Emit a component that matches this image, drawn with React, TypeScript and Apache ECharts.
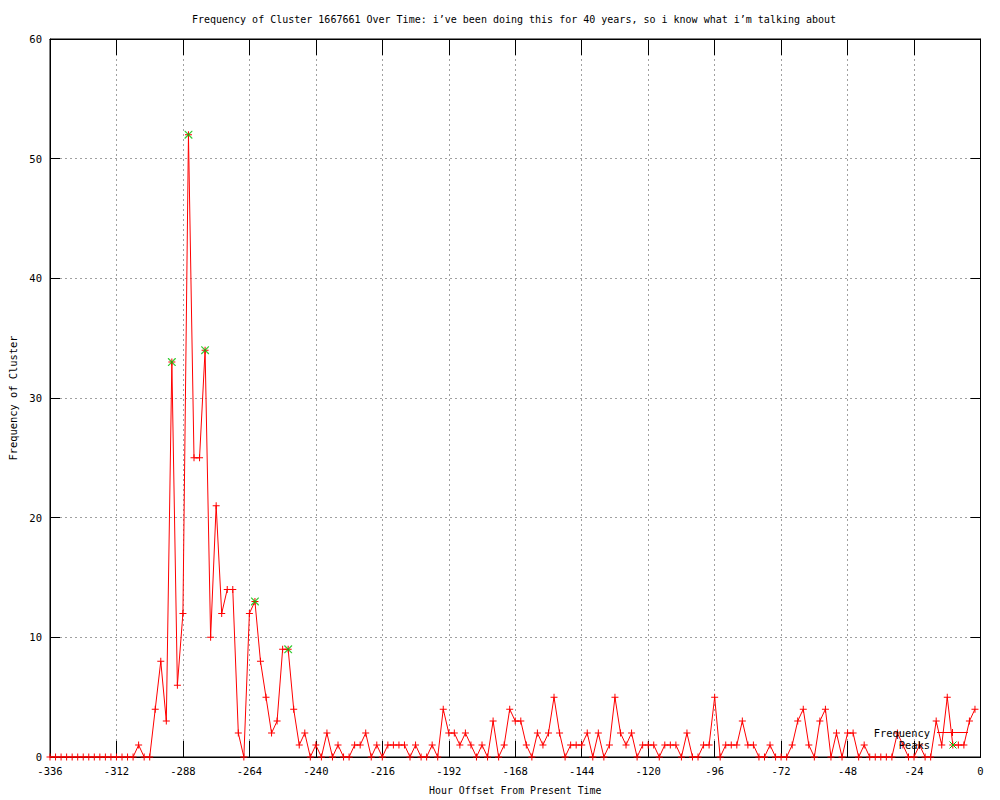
import React, { useEffect, useRef } from "react";
import * as echarts from "echarts";

const chartTitle =
  "Frequency of Cluster 1667661 Over Time: i’ve been doing this for 40 years, so i know what i’m talking about";
const xName = "Hour Offset From Present Time";
const yName = "Frequency of Cluster";

const hours = [
  -336, -334, -332, -330, -328, -326, -324, -322, -320, -318, -316, -314, -312, -310, -308, -306,
  -304, -302, -300, -298, -296, -294, -292, -290, -288, -286, -284, -282, -280, -278, -276, -274,
  -272, -270, -268, -266, -264, -262, -260, -258, -256, -254, -252, -250, -248, -246, -244, -242,
  -240, -238, -236, -234, -232, -230, -228, -226, -224, -222, -220, -218, -216, -214, -212, -210,
  -208, -206, -204, -202, -200, -198, -196, -194, -192, -190, -188, -186, -184, -182, -180, -178,
  -176, -174, -172, -170, -168, -166, -164, -162, -160, -158, -156, -154, -152, -150, -148, -146,
  -144, -142, -140, -138, -136, -134, -132, -130, -128, -126, -124, -122, -120, -118, -116, -114,
  -112, -110, -108, -106, -104, -102, -100, -98, -96, -94, -92, -90, -88, -86, -84, -82,
  -80, -78, -76, -74, -72, -70, -68, -66, -64, -62, -60, -58, -56, -54, -52, -50,
  -48, -46, -44, -42, -40, -38, -36, -34, -32, -30, -28, -26, -24, -22, -20, -18,
  -16, -14, -12, -10, -8, -6, -4, -2,
];

const frequency = [
  0, 0, 0, 0, 0, 0, 0, 0, 0, 0, 0, 0, 0, 0, 0, 0,
  1, 0, 0, 4, 8, 3, 33, 6, 12, 52, 25, 25, 34, 10, 21, 12,
  14, 14, 2, 0, 12, 13, 8, 5, 2, 3, 9, 9, 4, 1, 2, 0,
  1, 0, 2, 0, 1, 0, 0, 1, 1, 2, 0, 1, 0, 1, 1, 1,
  1, 0, 1, 0, 0, 1, 0, 4, 2, 2, 1, 2, 1, 0, 1, 0,
  3, 0, 1, 4, 3, 3, 1, 0, 2, 1, 2, 5, 2, 0, 1, 1,
  1, 2, 0, 2, 0, 1, 5, 2, 1, 2, 0, 1, 1, 1, 0, 1,
  1, 1, 0, 2, 0, 0, 1, 1, 5, 0, 1, 1, 1, 3, 1, 1,
  0, 0, 1, 0, 0, 0, 1, 3, 4, 1, 0, 3, 4, 0, 2, 0,
  2, 2, 0, 1, 0, 0, 0, 0, 0, 2, 1, 0, 0, 1, 0, 0,
  3, 1, 5, 1, 1, 1, 3, 4,
];

const peakHours = [-292, -286, -280, -262, -250];
const peakValues = [33, 52, 34, 13, 9];

const xMin = -336;
const xMax = 0;
const xStep = 24;
const yMin = 0;
const yMax = 60;
const yStep = 10;

const FONT = "DejaVu Sans Mono";
const PLUS = "path://M3,0h1v7h-1zM0,3h7v1h-7z";
const CROSS = "path://M0,0L1,0L9,8L9,9L8,9L0,1ZM8,0L9,0L9,1L1,9L0,9L0,8Z";

export default function App() {
  const ref = useRef<HTMLDivElement>(null);

  useEffect(() => {
    if (!ref.current) return;
    const chart = echarts.init(ref.current, undefined, { renderer: "svg" });

    const freqData = hours.map((h, i) => [h, frequency[i]]);
    const peakData = peakHours.map((h, i) => [h, peakValues[i]]);

    const baseX = {
      type: "value" as const,
      min: xMin,
      max: xMax,
      interval: xStep,
    };
    const baseY = {
      type: "value" as const,
      min: yMin,
      max: yMax,
      interval: yStep,
    };

    chart.setOption({
      animation: false,
      backgroundColor: "#ffffff",
      title: {
        text: chartTitle,
        left: 514,
        top: 14,
        textAlign: "center",
        padding: 0,
        textStyle: {
          fontFamily: FONT,
          fontSize: 10,
          fontWeight: "normal",
          color: "#000",
        },
      },
      grid: {
        left: 50,
        right: 19.5,
        top: 39,
        bottom: 40,
        show: true,
        borderColor: "#000",
        borderWidth: 1,
        backgroundColor: "transparent",
      },
      xAxis: [
        {
          ...baseX,
          position: "bottom",
          name: xName,
          nameLocation: "middle",
          nameGap: 28,
          nameTextStyle: { fontFamily: FONT, fontSize: 9.9, color: "#000" },
          axisLine: { show: true, onZero: false, lineStyle: { color: "#000", width: 1 } },
          axisTick: { show: true, inside: true, length: 16, lineStyle: { color: "#000", width: 1 } },
          axisLabel: {
            show: true,
            margin: 8,
            fontFamily: FONT,
            fontSize: 10.5,
            color: "#000",
            showMinLabel: true,
            showMaxLabel: true,
          },
          splitLine: {
            show: true,
            lineStyle: { color: "#a0a0a0", width: 1, type: [2, 3] },
          },
        },
        {
          ...baseX,
          position: "top",
          axisLine: { show: true, onZero: false, lineStyle: { color: "#000", width: 1 } },
          axisTick: { show: true, inside: true, length: 16, lineStyle: { color: "#000", width: 1 } },
          axisLabel: { show: false },
          splitLine: { show: false },
        },
      ],
      yAxis: [
        {
          ...baseY,
          position: "left",
          name: yName,
          nameLocation: "middle",
          nameGap: 30,
          nameRotate: 90,
          nameTextStyle: { fontFamily: FONT, fontSize: 10.4, color: "#000" },
          axisLine: { show: true, onZero: false, lineStyle: { color: "#000", width: 1 } },
          axisTick: { show: true, inside: true, length: 10, lineStyle: { color: "#000", width: 1 } },
          axisLabel: {
            show: true,
            margin: 8,
            fontFamily: FONT,
            fontSize: 10.5,
            color: "#000",
          },
          splitLine: {
            show: true,
            lineStyle: { color: "#a0a0a0", width: 1, type: [2, 3] },
          },
        },
        {
          ...baseY,
          position: "right",
          axisLine: { show: true, onZero: false, lineStyle: { color: "#000", width: 1 } },
          axisTick: { show: true, inside: true, length: 10, lineStyle: { color: "#000", width: 1 } },
          axisLabel: { show: false },
          splitLine: { show: false },
        },
      ],
      series: [
        {
          name: "Frequency",
          type: "line",
          xAxisIndex: 0,
          yAxisIndex: 0,
          data: freqData,
          clip: false,
          showSymbol: true,
          showAllSymbol: true,
          symbol: PLUS,
          symbolSize: 7,
          lineStyle: { color: "#ff0000", width: 1 },
          itemStyle: { color: "#ff0000", borderWidth: 0 },
          emphasis: { disabled: true },
          z: 3,
        },
        {
          name: "Peaks",
          type: "scatter",
          xAxisIndex: 0,
          yAxisIndex: 0,
          data: peakData,
          clip: false,
          symbol: CROSS,
          symbolSize: 8,
          itemStyle: { color: "#00c000", borderWidth: 0 },
          emphasis: { disabled: true },
          z: 4,
        },
      ],
      graphic: [
        {
          type: "text",
          x: 930,
          y: 733,
          z: 10,
          style: {
            text: "Frequency",
            fontFamily: FONT,
            fontSize: 10.4,
            fill: "#000",
            align: "right",
            verticalAlign: "middle",
          },
        },
        {
          type: "line",
          z: 10,
          shape: { x1: 937, y1: 732.5, x2: 968, y2: 732.5 },
          style: { stroke: "#ff0000", lineWidth: 1 },
        },
        {
          type: "line",
          z: 10,
          shape: { x1: 952.5, y1: 729, x2: 952.5, y2: 736 },
          style: { stroke: "#ff0000", lineWidth: 1 },
        },
        {
          type: "line",
          z: 10,
          shape: { x1: 949, y1: 732.5, x2: 956, y2: 732.5 },
          style: { stroke: "#ff0000", lineWidth: 1 },
        },
        {
          type: "text",
          x: 930,
          y: 745,
          z: 10,
          style: {
            text: "Peaks",
            fontFamily: FONT,
            fontSize: 10.4,
            fill: "#000",
            align: "right",
            verticalAlign: "middle",
          },
        },
        {
          type: "line",
          z: 10,
          shape: { x1: 949.5, y1: 741.5, x2: 956.5, y2: 748.5 },
          style: { stroke: "#00c000", lineWidth: 1 },
        },
        {
          type: "line",
          z: 10,
          shape: { x1: 956.5, y1: 741.5, x2: 949.5, y2: 748.5 },
          style: { stroke: "#00c000", lineWidth: 1 },
        },
      ],
    });

    return () => {
      chart.dispose();
    };
  }, []);

  return (
    <div
      ref={ref}
      style={{ position: "fixed", left: 0, top: 0, width: 1000, height: 800, background: "#fff" }}
    />
  );
}
